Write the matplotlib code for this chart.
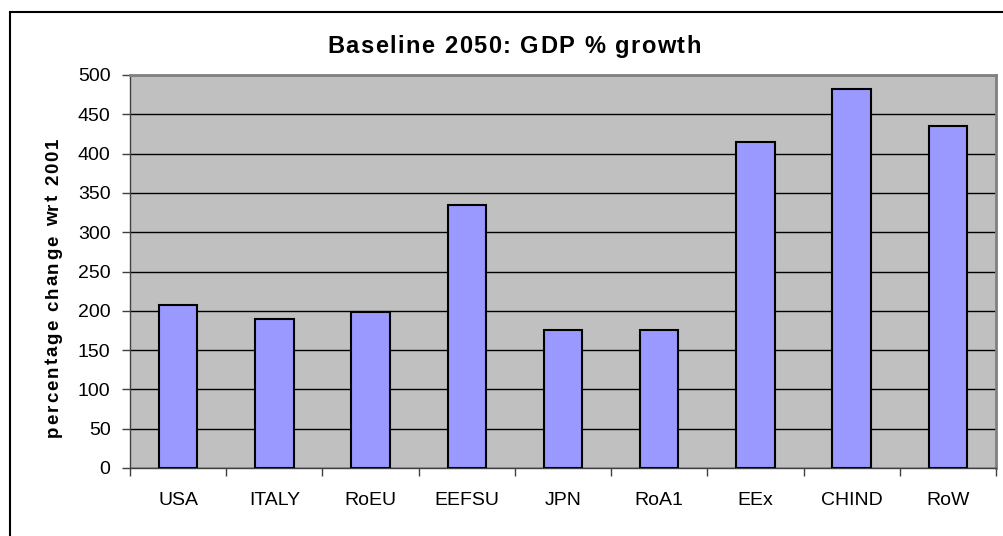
import matplotlib
matplotlib.use('Agg')
import matplotlib.pyplot as plt
from matplotlib.patches import Rectangle
from matplotlib.font_manager import FontProperties, findfont
from matplotlib.ft2font import FT2Font
import numpy as np

# Data
regions = ['USA', 'ITALY', 'RoEU', 'EEFSU', 'JPN', 'RoA1', 'EEx', 'CHIND', 'RoW']
gdp_growth = [207, 189, 199, 334, 176, 176, 415, 482, 435]
yticks = [0, 50, 100, 150, 200, 250, 300, 350, 400, 450, 500]

plt.rcParams['font.family'] = ['Liberation Sans', 'DejaVu Sans']

W, H = 1004, 536
DPI = 100
fig = plt.figure(figsize=(W / DPI, H / DPI), dpi=DPI)


def spaced_text(s, x0, y0, span, size, vertical=False):
    # Excel-style letter spacing: spread the characters over `span` pixels.
    # (x0, y0) is the start of the baseline in pixels from top-left.
    prop = FontProperties(family='Liberation Sans', weight='bold', size=size)
    font = FT2Font(findfont(prop))
    font.set_size(size, DPI)
    adv = [font.load_char(ord(ch)).linearHoriAdvance / 65536 for ch in s]
    gap = (span - sum(adv)) / (len(s) - 1)
    pos = 0.0
    for ch, a in zip(s, adv):
        if vertical:
            fig.text(x0 / W, 1 - (y0 - pos) / H, ch, fontproperties=prop,
                     rotation=90, rotation_mode='anchor',
                     ha='left', va='baseline')
        else:
            fig.text((x0 + pos) / W, 1 - y0 / H, ch, fontproperties=prop,
                     ha='left', va='baseline')
        pos += a + gap


# outer chart frame (right and bottom sides fall outside the picture)
fig.patches.append(Rectangle((10 / W, -0.1), 1.2, (H - 12) / H + 0.1,
                             transform=fig.transFigure, fill=False,
                             edgecolor='black', linewidth=1.5))

ax = fig.add_axes([130 / W, (H - 468) / H, 866 / W, 393 / H])
ax.set_facecolor('#C0C0C0')

x = np.arange(len(regions))
ax.bar(x, gdp_growth, width=0.4, color='#9999FF', edgecolor='black',
       linewidth=1.5, zorder=3)

ax.set_xlim(-0.5, len(regions) - 0.5)
ax.set_ylim(0, 500)
ax.set_yticks(yticks)
ax.yaxis.grid(True, color='black', linewidth=1, zorder=1)
ax.set_axisbelow(True)

ax.set_xticks(x)
ax.set_xticklabels(regions, fontsize=14)
ax.set_xticks(np.arange(len(regions) + 1) - 0.5, minor=True)
ax.tick_params(axis='x', which='major', length=0, pad=17)
ax.tick_params(axis='x', which='minor', length=6, width=1, color='#404040')
ax.tick_params(axis='y', length=6, width=1, color='#404040', labelsize=14, pad=8)

for side in ['top', 'right']:
    ax.spines[side].set_color('#808080')
    ax.spines[side].set_linewidth(2)
for side in ['left', 'bottom']:
    ax.spines[side].set_color('#404040')
    ax.spines[side].set_linewidth(1)

spaced_text('Baseline 2050: GDP % growth', 327, 53, 374, 17)
spaced_text('percentage change wrt 2001', 58, 437, 299, 13.5, vertical=True)

fig.savefig('out.png', dpi=DPI)
